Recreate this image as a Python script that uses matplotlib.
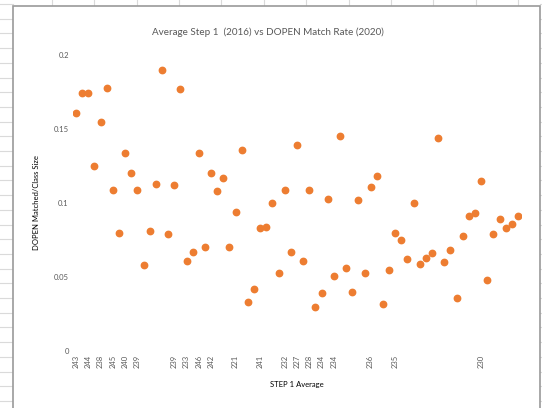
import numpy as np
import matplotlib.pyplot as plt
from matplotlib.lines import Line2D
from matplotlib.patches import Rectangle

# step 1 average labels (Excel shows every other category; blanks are empty cells)
step1 = ["243", "", "244", "", "238", "", "245", "", "240", "", "239", "", "", "", "",
         "", "239", "", "233", "", "246", "", "242", "", "", "", "221", "", "", "",
         "241", "", "", "", "232", "", "227", "", "228", "", "234", "", "234", "", "",
         "", "", "", "236", "", "", "", "235", "", "", "", "", "", "", "",
         "", "", "", "", "", "", "230", "", "", "", "", "", ""]

match_rate = [0.161, 0.174, 0.174, 0.125, 0.155, 0.178, 0.109, 0.080, 0.134, 0.120,
              0.109, 0.058, 0.081, 0.113, 0.190, 0.079, 0.112, 0.177, 0.061, 0.067,
              0.134, 0.070, 0.120, 0.108, 0.117, 0.070, 0.094, 0.136, 0.033, 0.042,
              0.083, 0.084, 0.100, 0.053, 0.109, 0.067, 0.139, 0.061, 0.109, 0.030,
              0.039, 0.103, 0.051, 0.145, 0.056, 0.040, 0.102, 0.053, 0.111, 0.118,
              0.032, 0.055, 0.080, 0.075, 0.062, 0.100, 0.059, 0.063, 0.066, 0.144,
              0.060, 0.068, 0.036, 0.078, 0.091, 0.093, 0.115, 0.048, 0.079, 0.089,
              0.083, 0.086, 0.091]

plt.rcParams['font.family'] = ['Lato', 'DejaVu Sans']
grey = "#595959"
W, H = 542, 408

fig = plt.figure(figsize=(W / 100, H / 100), dpi=100)

# spreadsheet cells behind the chart
cell = "#DADADA"
for k in range(28):
    y = (H - (4 + 14.7 * k)) / H
    fig.add_artist(Line2D([0, 13 / W], [y, y], color=cell, lw=0.8, zorder=-3))
    fig.add_artist(Line2D([540 / W, 1], [y, y], color=cell, lw=0.8, zorder=-3))
for k in range(12):
    xx = (52 + 42.36 * k) / W
    fig.add_artist(Line2D([xx, xx], [1, (H - 6) / H], color=cell, lw=0.8, zorder=-3))
fig.add_artist(Rectangle((13 / W, -0.01), (540 - 13) / W, (H - 6) / H + 0.01,
                         transform=fig.transFigure, facecolor="white",
                         edgecolor="#9A9A9A", lw=1.2, zorder=-2))

ax = fig.add_axes([73 / W, 57 / H, 448 / W, 296 / H])
ax.patch.set_alpha(0)
x = np.arange(len(match_rate))
ax.plot(x, match_rate, linestyle="none", marker="o", markersize=4.6,
        color="#ED7D31")

ax.set_xlim(-0.5, len(match_rate) - 0.5)
ax.set_ylim(0, 0.2)
ax.set_yticks([0, 0.05, 0.1, 0.15, 0.2])
ax.set_yticklabels(["0", "0.05", "0.1", "0.15", "0.2"])
ax.set_xticks(x[::2])
ax.set_xticklabels(step1[::2], rotation=90)
ax.tick_params(length=0, labelsize=5.5, colors=grey, pad=3)
for s in ax.spines.values():
    s.set_visible(False)

fig.text(268 / W, (H - 32) / H, "Average Step 1  (2016) vs DOPEN Match Rate (2020)",
         fontsize=7.1, color=grey, ha="center", va="center")
ax.set_xlabel("STEP 1 Average", fontsize=5.5, color="black", labelpad=9)
ax.set_ylabel("DOPEN Matched/Class Size", fontsize=5.5, color="black", labelpad=10)

fig.savefig("out.png", dpi=100)
